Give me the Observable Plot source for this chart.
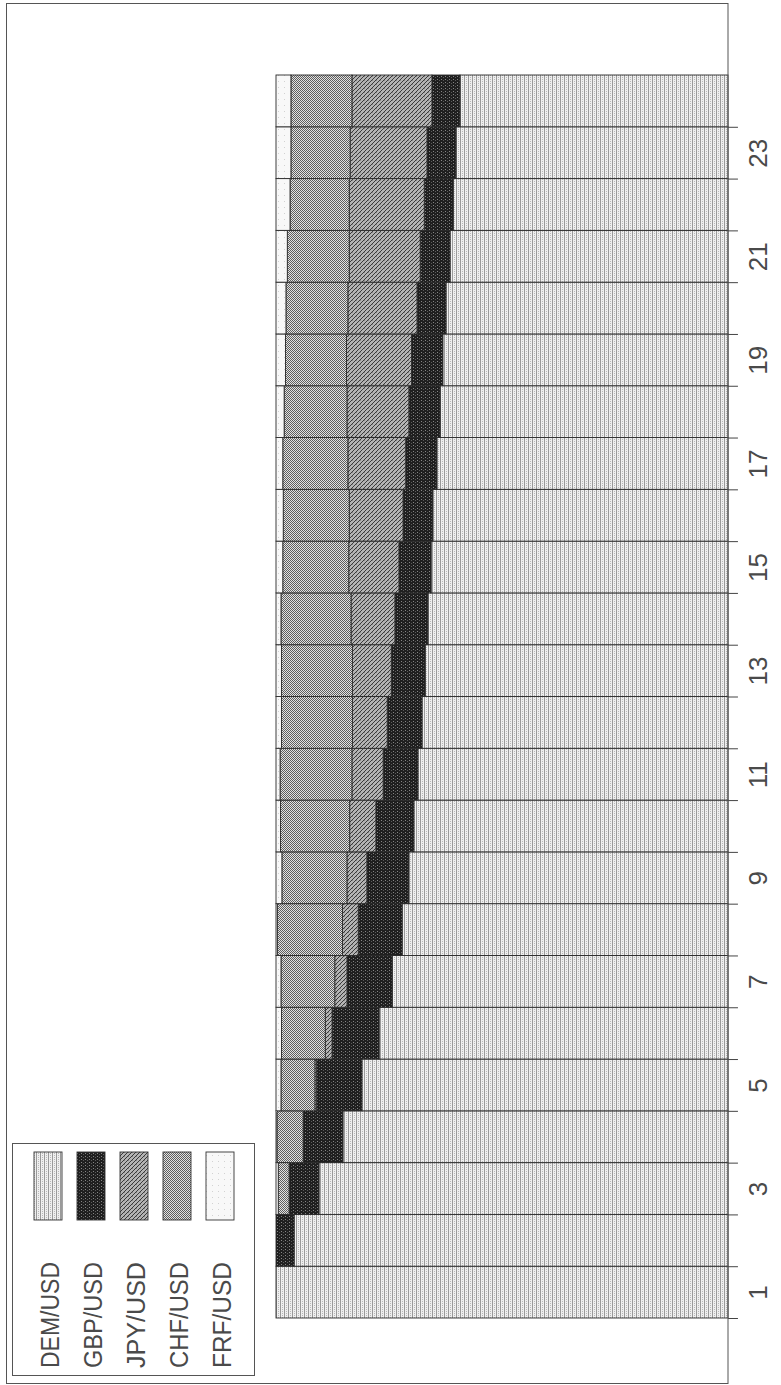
<!DOCTYPE html>
<html>
<head>
<meta charset="utf-8">
<script src="https://cdn.jsdelivr.net/npm/d3@7"></script>
<script src="https://cdn.jsdelivr.net/npm/@observablehq/plot@0.6"></script>
<style>
  html, body { margin: 0; padding: 0; background: #fff; }
  #chart { width: 781px; height: 1385px; }
</style>
</head>
<body>
<div id="chart"></div>
<script>
// ---- Data (shares in %, stacked from the axis outward) ----
const periods = [1, 2, 3, 4, 5, 6, 7, 8, 9, 10, 11, 12, 13, 14, 15, 16, 17, 18, 19, 20, 21, 22, 23, 24];
const currencies = ["DEM/USD", "GBP/USD", "JPY/USD", "CHF/USD", "FRF/USD"];
const dem = [100, 96.0, 90.5, 85.2, 81.0, 77.2, 74.3, 72.1, 70.6, 69.5, 68.6, 67.7, 67.0, 66.4, 65.7, 65.3, 64.4, 63.7, 63.1, 62.4, 61.5, 60.8, 60.2, 59.3];
const gbp = [0, 4.0, 6.6, 8.8, 10.0, 10.4, 10.0, 9.7, 9.3, 8.4, 7.7, 7.7, 7.5, 7.3, 7.1, 6.6, 6.9, 6.9, 6.9, 6.4, 6.6, 6.4, 6.4, 6.2];
const jpy = [0, 0, 0, 0, 0.4, 1.5, 2.7, 3.5, 4.4, 5.8, 6.9, 7.7, 8.6, 9.7, 11.1, 11.9, 12.8, 13.7, 14.4, 15.3, 15.7, 16.6, 17.0, 17.7];
const chf = [0, 0, 2.4, 5.8, 7.5, 9.7, 11.9, 14.4, 14.4, 15.3, 15.9, 15.7, 15.7, 15.5, 14.6, 14.6, 14.4, 13.9, 13.5, 13.7, 13.7, 13.1, 13.1, 13.5];
const frf = [0, 0, 0.5, 0.2, 1.1, 1.2, 1.1, 0.3, 1.3, 1.0, 0.9, 1.2, 1.2, 1.1, 1.5, 1.6, 1.5, 1.8, 2.1, 2.2, 2.5, 3.1, 3.3, 3.3];
const tickLabels = ["1", "3", "5", "7", "9", "11", "13", "15", "17", "19", "21", "23"];

// ---- Build stacked rows ----
const series = [dem, gbp, jpy, chf, frf];
const rows = [];
periods.forEach((p, i) => {
  let acc = 0;
  series.forEach((s, k) => {
    const v = s[i];
    if (v > 0) rows.push({period: p, currency: currencies[k], x1: acc, x2: acc + v, y1: p - 0.5, y2: p + 0.5});
    acc += v;
  });
});
const tickPositions = periods.map(p => p - 0.5);
const patternFills = ["url(#p-dem)", "url(#p-gbp)", "url(#p-jpy)", "url(#p-chf)", "url(#p-frf)"];

const FONT = "'Liberation Sans', Arial, sans-serif";

const svgNode = Plot.plot({
  width: 781,
  height: 1385,
  marginLeft: 276,
  marginRight: 53,
  marginTop: 75,
  marginBottom: 67,
  x: {domain: [0, 100], reverse: true, axis: null},
  y: {domain: [0.5, 24.5], axis: null},
  color: {type: "ordinal", domain: currencies, range: patternFills},
  style: {background: "white", fontFamily: FONT},
  marks: [
    Plot.rect(rows, {x1: "x1", x2: "x2", y1: "y1", y2: "y2", fill: "currency", stroke: "#2a2a2a", strokeWidth: 0.9}),
    Plot.ruleY(tickPositions, {y: d => d, x1: () => 0, x2: () => -2.2, stroke: "#444", strokeWidth: 1}),
    Plot.text(tickLabels, {y: d => +d, x: () => 0, dx: 30, rotate: -90, text: d => d, fontSize: 26, fill: "#4a4a4a"})
  ]
});

const svg = d3.select(svgNode);

// ---- Patterns ----
const defs = svg.insert("defs", ":first-child");
function pat(id, w, h, bg, cells) {
  const p = defs.append("pattern").attr("id", id).attr("patternUnits", "userSpaceOnUse")
    .attr("width", w).attr("height", h);
  p.append("rect").attr("width", w).attr("height", h).attr("fill", bg);
  cells.forEach(([x, y, cw, ch, c]) => p.append("rect").attr("x", x).attr("y", y)
    .attr("width", cw).attr("height", ch).attr("fill", c));
}
pat("p-dem", 4, 4, "#efefef", [[0, 0, 1, 4, "#9a9a9a"], [2, 1, 1, 1, "#b8b8b8"], [2, 3, 1, 1, "#b8b8b8"]]);
pat("p-gbp", 4, 3, "#1f1f1f", [[1, 1, 1, 1, "#858585"], [3, 2, 1, 1, "#5a5a5a"]]);
pat("p-jpy", 4, 4, "#b4b4b4", [[0, 3, 1, 1, "#3a3a3a"], [1, 2, 1, 1, "#3a3a3a"], [2, 1, 1, 1, "#3a3a3a"], [3, 0, 1, 1, "#3a3a3a"], [0, 0, 1, 1, "#8a8a8a"]]);
pat("p-chf", 2, 2, "#e2e2e2", [[0, 0, 1, 1, "#5e5e5e"], [1, 1, 1, 1, "#5e5e5e"]]);
pat("p-frf", 6, 6, "#f8f8f8", [[2, 3, 1, 1, "#d2d2d2"]]);

// ---- Outer frame (right edge is the category axis) ----
svg.append("rect").attr("x", 6.5).attr("y", 3.5).attr("width", 721.5).attr("height", 1380)
  .attr("fill", "none").attr("stroke", "#555").attr("stroke-width", 1);

// ---- Legend ----
const lg = svg.append("g").attr("font-family", FONT);
lg.append("rect").attr("x", 12.5).attr("y", 1143.5).attr("width", 242).attr("height", 232)
  .attr("fill", "white").attr("stroke", "#555").attr("stroke-width", 1);
const legendCenters = [48, 91, 134, 177, 220];
currencies.forEach((c, k) => {
  const cx = legendCenters[k];
  lg.append("rect").attr("x", cx - 14).attr("y", 1152).attr("width", 28).attr("height", 68)
    .attr("fill", patternFills[k]).attr("stroke", "#333").attr("stroke-width", 0.9);
  lg.append("text").attr("transform", `translate(${cx + 2},1368) rotate(-90)`)
    .attr("text-anchor", "start").attr("dominant-baseline", "central")
    .attr("font-size", 26).attr("fill", "#4a4a4a")
    .attr("textLength", 106).attr("lengthAdjust", "spacingAndGlyphs")
    .text(c);
});

document.getElementById("chart").appendChild(svgNode);
</script>
</body>
</html>
